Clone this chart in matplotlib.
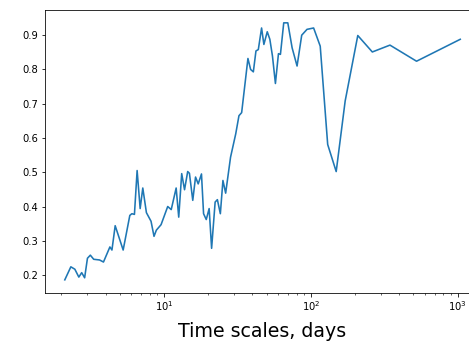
import matplotlib
matplotlib.use('Agg')
from matplotlib import pyplot as plt

# time scale (days) and value
days = [2.11, 2.32, 2.47, 2.63, 2.75, 2.88, 3.01, 3.15, 3.32, 3.64,
        3.87, 4.28, 4.42, 4.65, 5.27, 5.85, 6.04, 6.29, 6.56, 6.88,
        7.17, 7.59, 8.16, 8.55, 8.87, 9.55, 10.6, 11.2, 12.1, 12.6,
        13.2, 13.8, 14.5, 14.9, 15.7, 16.4, 17.1, 18.0, 18.6, 19.4,
        20.3, 21.1, 22.3, 23.1, 24.2, 25.2, 26.3, 28.4, 30.8, 32.4,
        33.8, 37.3, 38.9, 40.6, 42.3, 43.9, 46.2, 47.9, 50.5, 52.6,
        54.8, 57.4, 60.2, 62.1, 65.4, 69.7, 74.6, 80.6, 86.7, 94.2,
        104.5, 115.9, 130.3, 148.9, 171.4, 208.9, 262.4, 346, 525, 1042]
values = [0.186, 0.224, 0.217, 0.194, 0.207, 0.192, 0.249, 0.258, 0.246, 0.244,
          0.238, 0.282, 0.273, 0.344, 0.273, 0.374, 0.379, 0.377, 0.505, 0.394,
          0.454, 0.382, 0.357, 0.313, 0.331, 0.347, 0.400, 0.391, 0.454, 0.369,
          0.496, 0.449, 0.502, 0.497, 0.418, 0.486, 0.466, 0.495, 0.379, 0.362,
          0.394, 0.278, 0.413, 0.420, 0.379, 0.476, 0.439, 0.544, 0.612, 0.665,
          0.674, 0.832, 0.800, 0.793, 0.854, 0.858, 0.921, 0.873, 0.910, 0.888,
          0.839, 0.759, 0.846, 0.844, 0.936, 0.936, 0.863, 0.810, 0.900, 0.917,
          0.921, 0.868, 0.581, 0.502, 0.708, 0.899, 0.851, 0.871, 0.824, 0.888]

fig = plt.figure(figsize=(469 / 72, 347 / 72), dpi=72)
ax = fig.add_axes([0.096, 0.1565, 0.9275, 0.8147])
ax.plot(days, values, color='#1f77b4', linewidth=1.6)
ax.set_xscale('log')
ax.set_xlabel('Time scales, days', fontsize=19, labelpad=9)
ax.tick_params(labelsize=10)
fig.savefig('out.png', dpi=72)
